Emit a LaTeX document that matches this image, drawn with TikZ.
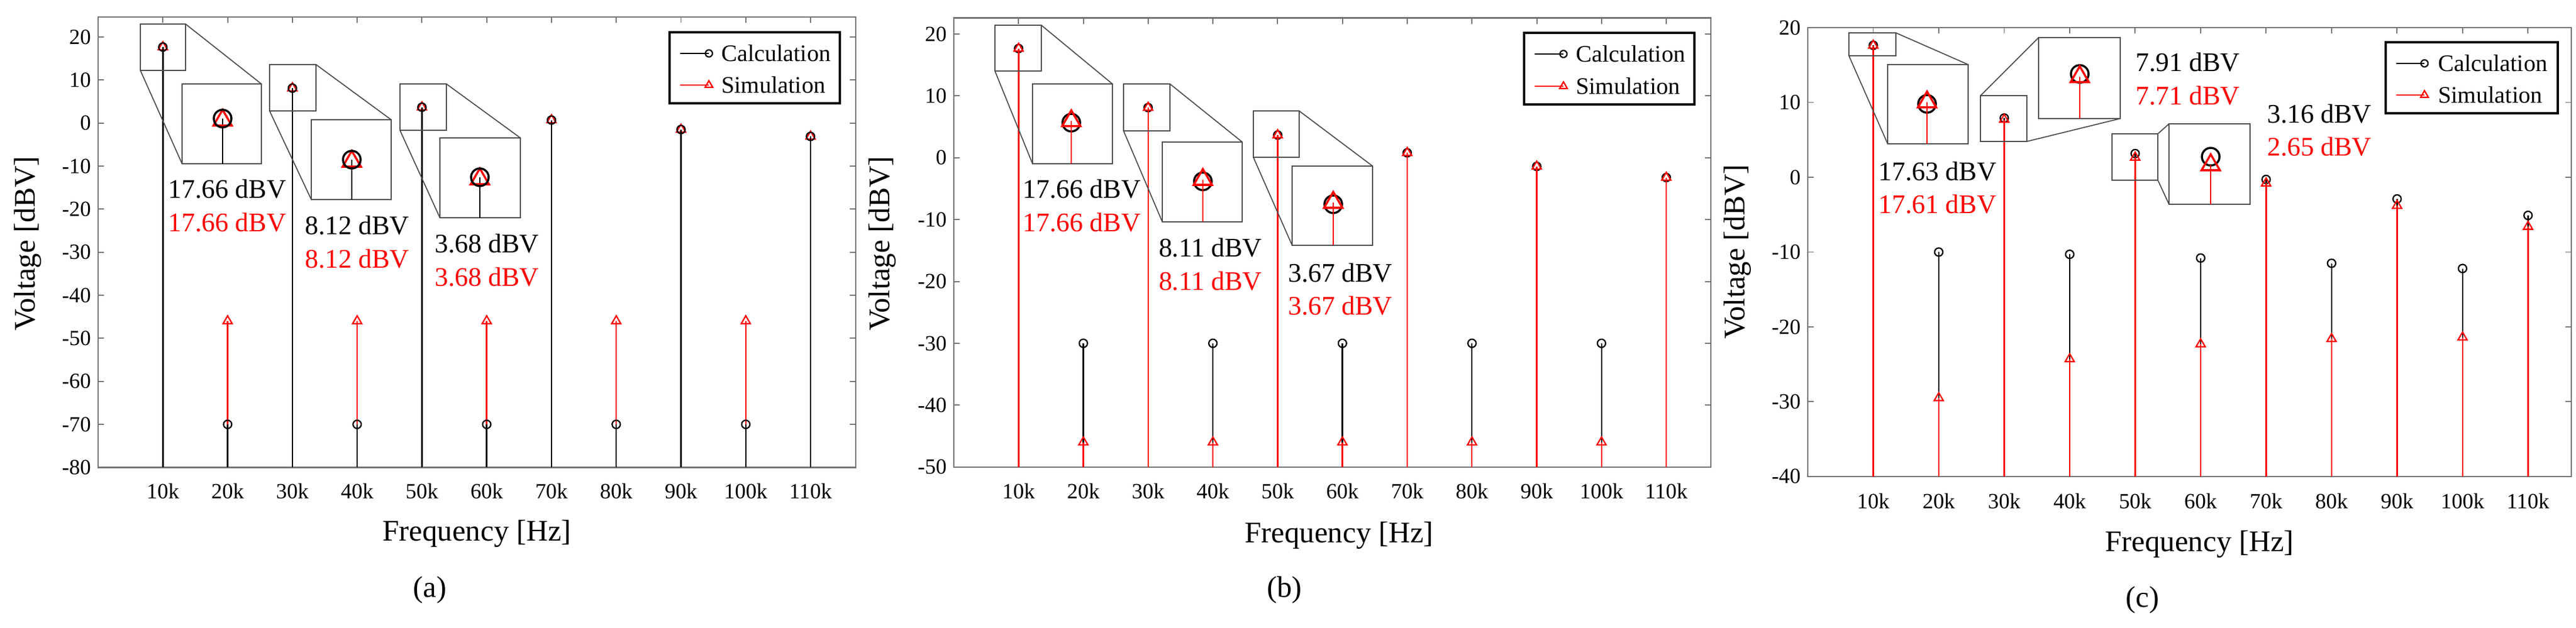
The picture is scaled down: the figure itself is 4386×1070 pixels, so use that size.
\documentclass[tikz,border=0pt]{standalone}
\usepackage{fontspec}
\setmainfont{Liberation Serif}
\setsansfont{Liberation Serif}
\usetikzlibrary{shapes.geometric}
\tikzset{
 axbox/.style={draw=black!55, line width=1.3pt},
 ctick/.style={draw=black!55, line width=1.1pt},
 cstem/.style={black, line width=1.4pt},
 sstem/.style={red, line width=1.4pt},
 cmark/.style={draw=black, circle, inner sep=0pt, minimum size=0.28cm, line width=1.3pt},
 tmark/.style={draw=red, regular polygon, regular polygon sides=3, inner sep=0pt, minimum size=0.36cm, line width=1.3pt},
 bigc/.style={draw=black, circle, inner sep=0pt, minimum size=0.6cm, line width=2pt},
 bigt/.style={draw=red, regular polygon, regular polygon sides=3, inner sep=0pt, minimum size=0.72cm, line width=2pt},
 zbox/.style={draw=black!70, line width=1.2pt},
 zline/.style={draw=black!70, line width=1pt},
 legframe/.style={draw=black, line width=2pt, fill=white},
 ticklab/.style={font=\rmfamily\fontsize{21}{24}\selectfont},
 datalab/.style={font=\rmfamily\fontsize{26}{30}\selectfont},
 leglab/.style={font=\rmfamily\fontsize{23}{26}\selectfont, anchor=west},
 axlab/.style={font=\rmfamily\fontsize{29}{32}\selectfont},
}
\begin{document}
\begin{tikzpicture}[x=0.02cm,y=-0.02cm]
\useasboundingbox (0,0) rectangle (4386,1070);
% ================= Panel (a)
\begin{scope}[shift={(167,209.7)}, x=2.206cm, y=0.1467cm]
 \draw[axbox] (0,-80) rectangle (11.7,24.6);
 \foreach \k in {1,...,11} {
  \draw[ctick] (\k,-80) -- ++(0,0.2cm);
  \draw[ctick] (\k,24.6) -- ++(0,-0.2cm);
  \node[ticklab, yshift=-0.82cm] at (\k,-80) {\k0k};
 }
 \foreach \v in {-80,-70,...,20} {
  \draw[ctick] (0,\v) -- ++(0.2cm,0);
  \draw[ctick] (11.7,\v) -- ++(-0.2cm,0);
  \node[ticklab, anchor=east, xshift=-0.12cm] at (0,\v) {\v};
 }
 \foreach \k/\c/\s in {1/17.66/17.66,2/-70/-46,3/8.12/8.12,4/-70/-46,5/3.68/3.68,6/-70/-46,7/0.7/0.7,8/-70/-46,9/-1.5/-1.5,10/-70/-46,11/-3.1/-3.1} {
  \draw[sstem] (\k,-80) -- (\k,\s) node[tmark]{};
 }
 \foreach \k/\c in {1/17.66,2/-70,3/8.12,4/-70,5/3.68,6/-70,7/0.7,8/-70,9/-1.5,10/-70,11/-3.1} {
  \draw[cstem] (\k,-80) -- (\k,\c) node[cmark]{};
 }
\end{scope}
% insets (a)
\draw[zbox] (239,41) rectangle (316,120);
\draw[zbox,fill=white] (310,143) rectangle (445,279);
\draw[zline] (316,41) -- (445,143);
\draw[zline] (239,120) -- (310,279);
\draw[cstem] (379,202) -- (379,279);
\node[bigt] at (379,205) {};
\node[bigc] at (379,202) {};
\draw[zbox] (459,110) rectangle (538,189);
\draw[zbox,fill=white] (530,204) rectangle (666,340);
\draw[zline] (538,110) -- (666,204);
\draw[zline] (459,189) -- (530,340);
\draw[cstem] (599,272) -- (599,340);
\node[bigt] at (599,275) {};
\node[bigc] at (599,272) {};
\draw[zbox] (681,143) rectangle (760,222);
\draw[zbox,fill=white] (749,235) rectangle (886,371);
\draw[zline] (760,143) -- (886,235);
\draw[zline] (681,222) -- (749,371);
\draw[cstem] (817,302) -- (817,371);
\node[bigt] at (817,305) {};
\node[bigc] at (817,302) {};
\node[datalab] at (387,322) {17.66 dBV};
\node[datalab,text=red] at (387,379) {17.66 dBV};
\node[datalab] at (608,384) {8.12 dBV};
\node[datalab,text=red] at (608,441) {8.12 dBV};
\node[datalab] at (829,415) {3.68 dBV};
\node[datalab,text=red] at (829,472) {3.68 dBV};
\draw[legframe] (1140,55) rectangle (1430,176);
\draw[cstem] (1158,91) -- (1207,91) node[cmark,minimum size=0.24cm]{};
\node[leglab] at (1222,91) {Calculation};
\draw[sstem] (1158,145) -- (1207,145) node[tmark,minimum size=0.3cm]{};
\node[leglab] at (1222,145) {Simulation};
\node[axlab,rotate=90] at (47,415) {Voltage [dBV]};
\node[axlab] at (812,909) {Frequency [Hz]};
\node[axlab] at (732,1005) {(a)};
% ================= Panel (b)
\begin{scope}[shift={(1624,268.8)}, x=2.206cm, y=0.2108cm]
 \draw[axbox] (0,-50) rectangle (11.69,22.6);
 \foreach \k in {1,...,11} {
  \draw[ctick] (\k,-50) -- ++(0,0.2cm);
  \draw[ctick] (\k,22.6) -- ++(0,-0.2cm);
  \node[ticklab, yshift=-0.82cm] at (\k,-50) {\k0k};
 }
 \foreach \v in {-50,-40,...,20} {
  \draw[ctick] (0,\v) -- ++(0.2cm,0);
  \draw[ctick] (11.69,\v) -- ++(-0.2cm,0);
  \node[ticklab, anchor=east, xshift=-0.12cm] at (0,\v) {\v};
 }
 \foreach \k/\c in {1/17.66,2/-30,3/8.11,4/-30,5/3.67,6/-30,7/0.8,8/-30,9/-1.4,10/-30,11/-3.2} {
  \draw[cstem] (\k,-50) -- (\k,\c) node[cmark]{};
 }
 \foreach \k/\s in {1/17.66,2/-46,3/8.11,4/-46,5/3.67,6/-46,7/0.8,8/-46,9/-1.4,10/-46,11/-3.2} {
  \draw[sstem] (\k,-50) -- (\k,\s) node[tmark]{};
 }
\end{scope}
\draw[zbox] (1694,43) rectangle (1773,121);
\draw[zbox,fill=white] (1758,143) rectangle (1894,279);
\draw[zline] (1773,43) -- (1894,143);
\draw[zline] (1694,121) -- (1758,279);
\node[bigc] at (1824,209) {};
\draw[sstem] (1824,206) -- (1824,279);
\node[bigt] at (1824,206) {};
\draw[zbox] (1913,143) rectangle (1992,223);
\draw[zbox,fill=white] (1979,242) rectangle (2115,378);
\draw[zline] (1992,143) -- (2115,242);
\draw[zline] (1913,223) -- (1979,378);
\node[bigc] at (2048,309) {};
\draw[sstem] (2048,306) -- (2048,378);
\node[bigt] at (2048,306) {};
\draw[zbox] (2134,189) rectangle (2212,268);
\draw[zbox,fill=white] (2200,283) rectangle (2337,418);
\draw[zline] (2212,189) -- (2337,283);
\draw[zline] (2134,268) -- (2200,418);
\node[bigc] at (2270,348) {};
\draw[sstem] (2270,345) -- (2270,418);
\node[bigt] at (2270,345) {};
\node[datalab] at (1842,322) {17.66 dBV};
\node[datalab,text=red] at (1842,379) {17.66 dBV};
\node[datalab] at (2061,422) {8.11 dBV};
\node[datalab,text=red] at (2061,479) {8.11 dBV};
\node[datalab] at (2282,465) {3.67 dBV};
\node[datalab,text=red] at (2282,521) {3.67 dBV};
\draw[legframe] (2595,56) rectangle (2885,178);
\draw[cstem] (2613,92) -- (2662,92) node[cmark,minimum size=0.24cm]{};
\node[leglab] at (2677,92) {Calculation};
\draw[sstem] (2613,147) -- (2662,147) node[tmark,minimum size=0.3cm]{};
\node[leglab] at (2677,147) {Simulation};
\node[axlab,rotate=90] at (1502,415) {Voltage [dBV]};
\node[axlab] at (2280,912) {Frequency [Hz]};
\node[axlab] at (2187,1005) {(b)};
% ================= Panel (c)
\begin{scope}[shift={(3078,302)}, x=2.23cm, y=0.255cm]
 \draw[axbox] (0,-40) rectangle (11.66,20);
 \foreach \k in {1,...,11} {
  \draw[ctick] (\k,-40) -- ++(0,0.2cm);
  \draw[ctick] (\k,20) -- ++(0,-0.2cm);
  \node[ticklab, yshift=-0.84cm] at (\k,-40) {\k0k};
 }
 \foreach \v in {-40,-30,...,20} {
  \draw[ctick] (0,\v) -- ++(0.2cm,0);
  \draw[ctick] (11.66,\v) -- ++(-0.2cm,0);
  \node[ticklab, anchor=east, xshift=-0.12cm] at (0,\v) {\v};
 }
 \foreach \k/\c in {1/17.63,2/-10,3/7.91,4/-10.3,5/3.16,6/-10.8,7/-0.3,8/-11.5,9/-2.9,10/-12.2,11/-5.1} {
  \draw[cstem] (\k,-40) -- (\k,\c) node[cmark]{};
 }
 \foreach \k/\s in {1/17.61,2/-29.5,3/7.71,4/-24.3,5/2.65,6/-22.3,7/-0.8,8/-21.6,9/-3.8,10/-21.4,11/-6.6} {
  \draw[sstem] (\k,-40) -- (\k,\s) node[tmark]{};
 }
\end{scope}
\draw[zbox] (3148,56) rectangle (3228,95);
\draw[zbox,fill=white] (3214,110) rectangle (3351,245);
\draw[zline] (3228,56) -- (3351,110);
\draw[zline] (3148,95) -- (3214,245);
\node[bigc] at (3281,177) {};
\draw[sstem] (3281,174) -- (3281,245);
\node[bigt] at (3281,174) {};
\draw[zbox] (3372,163) rectangle (3451,241);
\draw[zbox,fill=white] (3471,64) rectangle (3610,202);
\draw[zline] (3372,163) -- (3471,64);
\draw[zline] (3451,241) -- (3610,202);
\node[bigc] at (3541,126) {};
\draw[sstem] (3541,131) -- (3541,202);
\node[bigt] at (3541,131) {};
\draw[zbox] (3596,228) rectangle (3674,307);
\draw[zbox,fill=white] (3693,211) rectangle (3831,348);
\draw[zline] (3674,228) -- (3693,211);
\draw[zline] (3674,307) -- (3693,348);
\node[bigc] at (3764,267) {};
\draw[sstem] (3764,281) -- (3764,348);
\node[bigt] at (3764,281) {};
\node[datalab] at (3299,292) {17.63 dBV};
\node[datalab,text=red] at (3299,348) {17.61 dBV};
\node[datalab] at (3725,106) {7.91 dBV};
\node[datalab,text=red] at (3725,163) {7.71 dBV};
\node[datalab] at (3949,194) {3.16 dBV};
\node[datalab,text=red] at (3949,250) {2.65 dBV};
\draw[legframe] (4062,72) rectangle (4355,193);
\draw[cstem] (4080,108) -- (4128,108) node[cmark,minimum size=0.24cm]{};
\node[leglab] at (4145,108) {Calculation};
\draw[sstem] (4080,162) -- (4128,162) node[tmark,minimum size=0.3cm]{};
\node[leglab] at (4145,162) {Simulation};
\node[axlab,rotate=90] at (2958,429) {Voltage [dBV]};
\node[axlab] at (3745,927) {Frequency [Hz]};
\node[axlab] at (3648,1022) {(c)};
\end{tikzpicture}
\end{document}
